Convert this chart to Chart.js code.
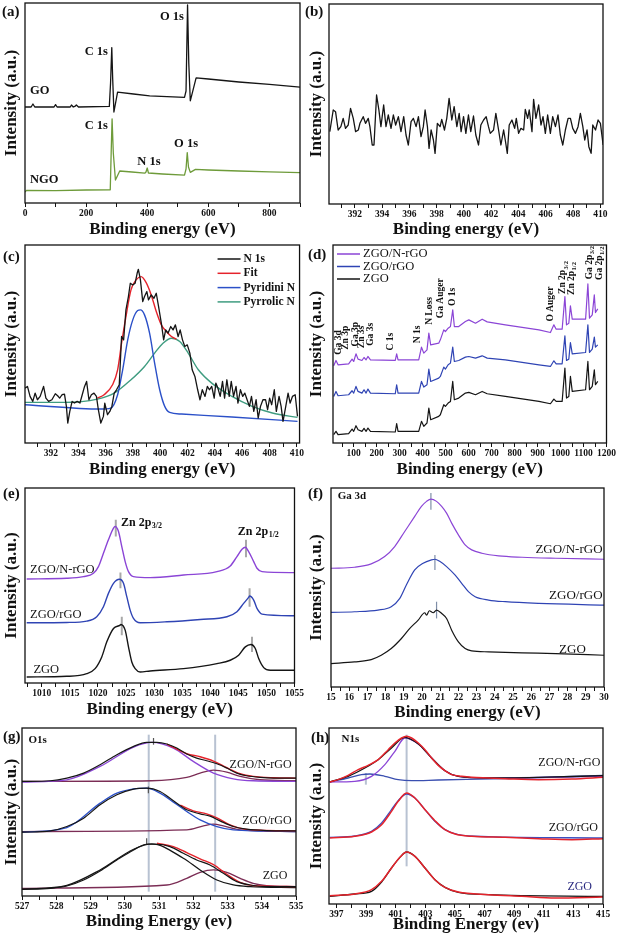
<!DOCTYPE html>
<html><head><meta charset="utf-8">
<script src="https://cdn.jsdelivr.net/npm/chart.js@4.4.1/dist/chart.umd.min.js"></script>
<style>
html,body{margin:0;padding:0;background:#fff;width:617px;height:940px;overflow:hidden;}
.p{position:absolute;}
.lbl{position:absolute;font:bold 15px "Liberation Serif",serif;color:#111;line-height:15px;}
</style></head><body>
<div class="p" style="left:0;top:0;width:305px;height:240px"><canvas id="ca"></canvas></div>
<div class="p" style="left:305px;top:0;width:312px;height:240px"><canvas id="cb"></canvas></div>
<div class="p" style="left:0;top:240px;width:305px;height:240px"><canvas id="cc"></canvas></div>
<div class="p" style="left:305px;top:240px;width:312px;height:240px"><canvas id="cd"></canvas></div>
<div class="p" style="left:0;top:480px;width:305px;height:240px"><canvas id="ce"></canvas></div>
<div class="p" style="left:305px;top:480px;width:312px;height:243px"><canvas id="cf"></canvas></div>
<div class="p" style="left:0;top:720px;width:305px;height:220px"><canvas id="cg"></canvas></div>
<div class="p" style="left:305px;top:720px;width:312px;height:220px"><canvas id="ch"></canvas></div>
<div class="lbl" style="left:2px;top:4px">(a)</div>
<div class="lbl" style="left:305px;top:4px">(b)</div>
<div class="lbl" style="left:3px;top:249px">(c)</div>
<div class="lbl" style="left:308px;top:247px">(d)</div>
<div class="lbl" style="left:3px;top:486px">(e)</div>
<div class="lbl" style="left:308px;top:486px">(f)</div>
<div class="lbl" style="left:3px;top:729px">(g)</div>
<div class="lbl" style="left:311px;top:730px">(h)</div>
<script>
// ---------------- DATA ----------------
// (a) survey GO / NGO
const aGOx = [0,20,26,32,95,100,105,148,152,158,163,168,175,276,280,284,287,291,303,355,408,522,527,532,536,541,560,600,700,800,900];
const aGOy = [48,48,49.5,48,48,49.2,48,48,49,48,48.3,49,48,48.3,60,77.7,62,45.5,55.4,54.5,53.6,52.8,56,99,70,51.1,62.6,62,60.5,59.3,57.9];
const aNGOx = [0,5,100,200,279,282,285,289,296,310,350,392,396,400,404,450,522,527,531,535,541,558,600,700,800,900];
const aNGOy = [5.5,6.3,6.2,6.5,6.6,25,42.1,25,11.5,16,15.5,14.9,15.5,17.5,15,14.5,13.9,17,25.2,18,15.3,16.8,16.5,16,15.6,15.2];
const aTicks = [0,200,400,600,800];

// (b) N 1s of ZGO (noise)
const bX = [390.16,390.41,390.58,390.77,390.97,391.14,391.31,391.51,391.68,391.88,392.05,392.25,392.37,392.61,392.78,392.98,393.10,393.27,393.40,393.59,393.76,393.91,394.11,394.28,394.45,394.65,394.82,394.99,395.19,395.38,395.58,395.75,395.92,396.12,396.29,396.49,396.66,396.85,397.02,397.15,397.32,397.44,397.59,397.76,397.88,398.05,398.25,398.37,398.57,398.74,398.91,399.11,399.28,399.48,399.65,399.79,399.97,400.14,400.33,400.50,400.70,400.87,401.07,401.24,401.44,401.63,401.80,401.93,402.17,402.34,402.54,402.71,402.91,403.03,403.18,403.32,403.52,403.72,403.84,404.01,404.18,404.38,404.50,404.67,404.79,404.99,405.11,405.28,405.48,405.65,405.80,405.97,406.14,406.34,406.51,406.71,406.90,407.07,407.25,407.44,407.64,407.81,407.98,408.18,408.37,408.54,408.72,408.86,409.03,409.16,409.33,409.45,409.65,409.84,410.01,410.21];
const bY = [217,282,277,222,232,257,227,237,287,257,217,222,242,262,242,257,232,177,177,327,282,232,297,232,267,227,267,237,262,217,262,207,177,247,257,232,262,202,232,282,232,167,222,192,152,242,232,254,222,257,317,252,292,232,272,217,262,212,267,217,264,207,177,237,252,262,232,212,222,272,222,177,222,192,152,237,252,227,257,212,227,222,284,257,282,217,314,257,297,237,262,212,267,212,262,232,267,207,177,222,257,257,227,212,232,272,232,192,222,172,152,237,222,252,242,177];
const bcTicks = [392,394,396,398,400,402,404,406,408,410];

// (c) N 1s of NGO with fit
const cRawX = [390.10,390.28,390.47,390.67,390.84,391.01,391.21,391.46,391.63,391.83,392.07,392.32,392.49,392.64,392.81,392.99,393.13,393.23,393.38,393.55,393.72,393.92,394.12,394.29,394.46,394.61,394.78,394.96,395.15,395.33,395.47,395.65,395.84,395.94,396.14,396.31,396.46,396.63,396.80,397.00,397.17,397.32,397.49,397.67,397.81,397.99,398.16,398.31,398.40,398.55,398.72,398.85,399.02,399.14,399.34,399.54,399.71,399.88,400.08,400.25,400.40,400.57,400.77,400.94,401.11,401.31,401.46,401.63,401.80,401.98,402.17,402.34,402.54,402.74,402.91,403.08,403.28,403.45,403.60,403.77,403.95,404.07,404.22,404.39,404.56,404.71,404.88,405.05,405.20,405.37,405.55,405.69,405.87,406.04,406.19,406.36,406.53,406.68,406.85,407.02,407.17,407.34,407.52,407.71,407.86,408.01,408.16,408.35,408.50,408.70,408.85,408.99,409.19,409.36,409.51,409.68,409.88,410.05];
const cRawY = [165,170,140,125,150,130,140,170,135,125,130,148,142,135,145,147,110,60,95,125,120,125,120,145,170,185,130,145,150,140,100,60,80,120,85,95,110,150,160,175,320,310,400,440,480,475,480,510,522,490,425,440,455,430,445,435,450,410,360,310,340,330,350,340,355,320,340,310,290,295,270,220,200,160,130,160,140,170,160,170,135,180,165,140,185,135,190,140,185,140,170,120,160,140,150,130,110,140,95,130,75,110,130,130,100,135,115,160,95,140,110,65,110,150,120,140,145,80];
const cFitX = [395.40,395.89,396.51,396.88,397.17,397.49,397.86,398.23,398.60,398.97,399.34,399.71,400.08,400.45,400.82,401.19];
const cFitY = [135,145,175,220,300,380,460,490,500,482,445,395,355,335,320,312];
const cPydX = [390.10,395.65,396.38,396.88,397.25,397.62,397.99,398.35,398.55,398.85,399.22,399.59,399.96,400.33,400.69,401.56,405.25,410.05];
const cPydY = [115,102,105,145,220,310,370,398,400,385,330,240,160,110,92,87,78,65];
const cPyrX = [390.10,392.94,395.40,396.63,397.86,398.85,399.59,400.20,400.82,401.43,402.05,402.79,403.77,405.25,406.73,408.21,410.05];
const cPyrY = [122,122,132,150,190,230,270,300,315,305,270,220,180,140,110,90,77];

// (d) survey spectra
const dX = [13,23,32,78,93,100,110,119,136,145,154,162,173,281,287,293,383,395,405,419,427,435,470,477,492,499,511,521,531,538,557,586,601,630,659,681,760,906,956,971,981,1007,1019,1026,1036,1043,1051,1109,1119,1126,1138,1147,1152,1162];
const dZGO = [25,35,25,28,42,35,52,40,35,44,35,45,35,33,58,35,35,65,50,60,105,70,80,85,115,110,120,125,185,130,135,150,152,145,155,148,140,125,118,132,125,125,225,135,140,200,155,160,245,160,170,220,175,185];
const dRGO = [140,155,142,145,157,150,170,155,150,160,150,162,150,148,175,150,150,185,168,175,222,185,195,200,228,222,235,240,288,245,248,258,260,255,262,255,250,235,230,247,238,238,322,248,252,302,268,272,355,272,282,318,288,295];
const dNRGO = [232,248,235,238,252,245,268,252,248,257,250,260,250,248,268,250,250,288,270,280,330,295,300,310,340,335,345,350,400,350,350,365,370,360,372,364,355,340,332,355,342,342,440,355,360,412,372,372,478,375,385,445,392,403];
const dPeakNames = ['Ga 3d','Zn 3p','Ga 3p','Zn 3s','Ga 3s','C 1s','N 1s','N Loss','Ga Auger','O 1s','O Auger','Zn 2p','Zn 2p','Ga 2p','Ga 2p'];
const dPeakSubs = ['','','','','','','','','','','','3/2','1/2','3/2','1/2'];
const dPeakX = [34.7,63.7,107,136,172.6,259.6,380,429,477,532,956,1010,1048,1126,1170];
const dPeakY = [265,280,290,285,292,278,300,355,375,412,365,448,445,492,490];
const dTicks = [100,200,300,400,500,600,700,800,900,1000,1100,1200];

// (e) Zn 2p
const eNX = [1007.3,1014.43,1017.40,1019.19,1020.08,1020.97,1021.86,1022.76,1023.05,1023.65,1024.24,1024.84,1025.43,1026.32,1029.29,1035.24,1041.19,1043.56,1044.75,1045.65,1046.24,1046.83,1047.73,1048.32,1049.21,1055];
const eNY = [311,313,318,328,348,388,428,463,468,453,408,363,333,318,315,323,333,350,378,400,406,393,363,343,333,330];
const eRX = [1007.3,1014.43,1018.00,1019.78,1020.97,1021.86,1022.76,1023.83,1024.54,1025.13,1025.73,1026.32,1027.51,1032.27,1038.21,1042.97,1044.75,1045.94,1046.83,1047.01,1047.73,1048.32,1049.21,1055];
const eRY = [180,181,185,198,228,268,298,310,298,258,218,193,180,183,190,198,213,238,256,260,248,223,206,201];
const eZX = [1007.3,1014.43,1018.00,1019.49,1020.67,1021.57,1022.76,1023.94,1024.06,1024.84,1025.43,1026.02,1026.62,1027.51,1029.29,1035.24,1041.19,1043.56,1045.05,1046.24,1047.25,1048.02,1048.62,1049.51,1050.70,1055];
const eZY = [18,20,28,43,78,123,163,173,175,158,108,63,43,33,36,43,58,68,83,108,115,103,73,46,38,38];
const eMarks = [[1023.17,438,488],[1046.36,376,428],[1024.0,283,330],[1047.0,228,283],[1024.24,143,198],[1047.43,93,138]];
const eTicks = [1010,1015,1020,1025,1030,1035,1040,1045,1050,1055];

// (f) Ga 3d
const fNX = [15,16.29,17.21,17.95,18.50,19.05,19.60,19.97,20.25,20.49,20.80,21.08,21.35,21.63,22.00,22.37,22.73,23.29,24.21,25.50,27.34,30];
const fNY = [355,358,368,390,420,465,510,540,555,562,555,540,520,490,455,425,410,400,392,388,385,382];
const fRX = [15,16.29,17.58,18.31,18.78,19.14,19.60,20.06,20.52,20.71,20.99,21.35,21.81,22.18,22.55,22.92,23.66,24.58,26.42,30];
const fRY = [223,225,230,240,265,305,350,370,380,382,375,360,335,310,285,270,260,255,250,245];
const fZX = [15,16.29,17.21,17.76,18.31,18.87,19.33,19.79,20.15,20.25,20.40,20.62,20.80,21.08,21.35,21.63,22.00,22.37,22.73,23.66,25.50,27.34,30];
const fZY = [70,75,82,95,115,145,175,200,222,215,228,222,230,220,205,170,135,115,108,105,102,100,95];
const fMarks = [[20.49,530,580],[20.71,350,395],[20.80,205,255]];
const fTicks = [15,16,17,18,19,20,21,22,23,24,25,26,27,28,29,30];

// (g) O 1s
const gTopRawX = [527,527.83,528.31,528.80,529.28,529.77,530.26,530.64,530.94,531.23,531.52,531.81,532.10,532.39,532.69,532.98,533.27,533.56,533.95,534.34,535];
const gTopRawY = [343,345,353,368,393,423,448,460,460,455,443,425,413,405,396,383,368,360,355,353,353];
const gTopFitX = [531.23,531.81,532.20,532.59,532.98,533.37,533.75,534.34,535];
const gTopFitY = [455,426,417,404,384,366,358,354,353];
const gTopMainX = [527,528.31,529.28,530.26,530.79,531.42,532.00,532.59,533.17,533.75,535];
const gTopMainY = [341,348,388,446,460,443,403,368,351,345,343];
const gTopSecX = [527,530.79,531.81,532.20,532.59,532.98,533.37,533.95,535];
const gTopSecY = [343,345,355,368,377,371,358,348,345];
const gMidRawX = [527,527.83,528.31,528.80,529.28,529.77,530.26,530.64,531.03,531.42,531.81,532.20,532.49,532.78,533.17,533.56,534.14,535];
const gMidRawY = [191,195,208,233,273,303,320,323,313,285,258,246,239,225,208,200,196,195];
const gMidFitX = [531.62,532.00,532.39,532.69,533.07,533.46,533.95,535];
const gMidFitY = [272,255,246,234,213,201,197,195];
const gMidMainX = [527,528.31,529.28,529.77,530.26,530.64,531.03,531.42,531.81,532.20,532.69,533.17,535];
const gMidMainY = [191,205,278,308,321,323,308,281,253,228,208,198,193];
const gMidSecX = [527,531.81,532.30,532.59,532.88,533.37,535];
const gMidSecY = [193,198,210,215,210,198,193];
const gBotRawX = [527,527.83,528.31,528.80,529.28,529.77,530.26,530.64,530.94,531.32,531.71,532.10,532.49,532.88,533.27,533.66,534.14,535];
const gBotRawY = [20,23,30,48,75,108,138,155,155,148,128,108,93,68,43,33,28,28];
const gBotFitX = [530.94,531.42,531.81,532.20,532.59,532.98,533.37,533.75,535];
const gBotFitY = [158,148,130,111,94,65,41,31,28];
const gBotMainX = [527,528.31,529.28,530.26,530.79,531.71,532.20,532.69,533.17,533.66,535];
const gBotMainY = [20,32,78,140,156,113,78,48,33,28,25];
const gBotSecX = [527,531.23,531.81,532.20,532.59,532.98,533.37,533.75,534.14,535];
const gBotSecY = [23,33,53,71,78,71,53,38,31,28];
const gGuides = [[530.7,13,483],[532.64,13,483]];
const gMarks = [[530.84,453,473],[530.69,308,328],[530.64,153,173]];
const gTicks = [527,528,529,530,531,532,533,534,535];

// (h) N 1s of composites
const hTopRawX = [396.55,397.11,397.79,398.47,399.14,399.82,400.50,400.95,401.40,401.74,402.08,402.53,402.98,403.43,403.88,404.33,404.78,405.46,406.14,407.26,408.39,410.65,412.90,415];
const hTopRawY = [366,373,386,403,416,433,463,483,498,503,498,483,463,438,416,400,388,383,380,378,376,373,375,380];
const hTopFitX = [396.55,397.79,398.92,399.82,400.72,401.62,402.53,403.43,404.33,405.23,407.26,410.65,415];
const hTopFitY = [366,383,408,433,468,500,480,438,400,383,378,380,385];
const hTopMainX = [396.55,398.24,399.37,400.27,400.95,401.62,402.53,403.43,404.33,405.23,407.26,415];
const hTopMainY = [366,368,383,418,458,498,480,438,400,383,378,383];
const hTopSecX = [396.55,397.79,398.69,399.26,400.27,401.17,402.08,403.88,408.39,415];
const hTopSecY = [366,378,388,390,383,373,370,372,376,386];
const hMidRawX = [396.55,398.24,399.37,400.05,400.72,401.17,401.74,402.30,402.98,403.65,404.33,405.01,406.14,408.39,410.65,412.90,415];
const hMidRawY = [198,203,216,238,278,308,333,318,283,250,223,210,203,200,196,193,196];
const hMidFitX = [396.55,398.24,399.37,400.05,400.72,401.17,401.74,402.30,402.98,403.65,404.33,405.23,407.26,415];
const hMidFitY = [200,204,218,243,283,310,330,318,283,248,223,208,202,198];
const hBotRawX = [396.55,398.24,399.37,400.05,400.72,401.29,401.74,402.30,402.98,403.65,404.33,405.23,407.26,409.52,411.78,415];
const hBotRawY = [25,30,43,68,108,140,156,143,108,73,50,36,28,23,18,21];
const hBotFitX = [396.55,398.24,399.37,400.05,400.72,401.29,401.74,402.30,402.98,403.65,404.33,405.23,407.26,415];
const hBotFitY = [23,30,38,66,108,140,156,143,108,73,50,35,28,23];
const hGuides = [[401.74,113,508],[398.99,358,393]];
const hTicks = [397,399,401,403,405,407,409,411,413,415];

// ---------------- STYLE / HELPERS ----------------
const F = '"Liberation Serif","Times New Roman",serif';
const BLK = '#151515', RED = '#e5232b', BLU = '#2f44b4', PUR = '#8b45d6', GRN = '#3f9c80', OLV = '#6e9b3a', MAR = '#7b2d55', GRY = '#b8c2d2';

function ln(xs, ys, color, w, extra) {
  return Object.assign({data: xs.map((x, i) => ({x: x, y: ys[i]})), borderColor: color, borderWidth: w || 1.2,
    pointRadius: 0, tension: 0, fill: false}, extra || {});
}
const smooth = {cubicInterpolationMode: 'monotone'};
function vl(m, color, w) {
  return {data: [{x: m[0], y: m[1]}, {x: m[0], y: m[2]}], borderColor: color, borderWidth: w || 1.2, pointRadius: 0, fill: false};
}

const framePlugin = {
  id: 'frame',
  afterDraw(chart) {
    const a = chart.chartArea, ctx = chart.ctx;
    ctx.save(); ctx.strokeStyle = '#111'; ctx.lineWidth = 1.3;
    ctx.strokeRect(a.left, a.top, a.right - a.left, a.bottom - a.top);
    ctx.restore();
  }
};
function notesPlugin(notes, legend) {
  return {
    id: 'notes',
    afterDatasetsDraw(chart) {
      const ctx = chart.ctx, xs = chart.scales.x, ys = chart.scales.y, a = chart.chartArea;
      (notes || []).forEach(n => {
        ctx.save();
        ctx.font = n.font; ctx.fillStyle = n.color || '#111';
        const px = xs.getPixelForValue(n.x), py = ys.getPixelForValue(n.y);
        ctx.textBaseline = 'middle';
        if (n.rot) { ctx.translate(px, py); ctx.rotate(-Math.PI / 2); ctx.textAlign = 'left'; }
        else { ctx.translate(px, py); ctx.textAlign = n.align || 'left'; }
        ctx.fillText(n.text, 0, 0);
        if (n.sub) {
          const w = ctx.measureText(n.text).width;
          ctx.font = n.subFont; ctx.textAlign = 'left';
          ctx.fillText(n.sub, w + 0.5, 3);
        }
        ctx.restore();
      });
      if (legend) {
        ctx.save();
        ctx.font = legend.font; ctx.textBaseline = 'middle'; ctx.textAlign = 'left';
        legend.items.forEach((it, i) => {
          const y = a.top + legend.y0 + i * legend.dy;
          const x0 = legend.fromRight ? a.right - legend.x0 : a.left + legend.x0;
          ctx.strokeStyle = it.c; ctx.lineWidth = 1.5;
          ctx.beginPath(); ctx.moveTo(x0, y); ctx.lineTo(x0 + legend.len, y); ctx.stroke();
          ctx.fillStyle = '#111';
          ctx.fillText(it.t, x0 + legend.len + 3, y);
        });
        ctx.restore();
      }
    }
  };
}

function makeChart(id, c) {
  const tickVals = [];
  for (let v = c.tickStart; v <= c.xMax + 1e-9; v += c.tickStep) tickVals.push(Math.round(v * 1000) / 1000);
  new Chart(document.getElementById(id), {
    type: 'line',
    data: {datasets: c.datasets},
    options: {
      responsive: true, maintainAspectRatio: false, animation: false,
      layout: {padding: {left: 0, top: c.pad[0], right: c.pad[1], bottom: c.pad[2]}},
      plugins: {legend: {display: false}, tooltip: {enabled: false}},
      elements: {line: {borderJoinStyle: 'round'}},
      scales: {
        x: {
          type: 'linear', min: c.xMin, max: c.xMax,
          afterBuildTicks: s => { s.ticks = tickVals.map(v => ({value: v})); },
          ticks: {autoSkip: false, maxRotation: 0, minRotation: 0, padding: 1, color: '#111',
            font: {family: F, size: 9.5, weight: 'bold'},
            callback: v => c.labels.some(m => Math.abs(m - v) < 1e-6) ? String(v) : ''},
          grid: {drawOnChartArea: false, drawTicks: true, tickLength: 4, color: '#111', lineWidth: 1},
          border: {display: false},
          title: {display: true, text: c.xTitle, color: '#111', font: {family: F, size: 17, weight: 'bold'}, padding: {top: 0, bottom: 0}},
          afterFit: s => { s.height = c.xH; }
        },
        y: {
          min: c.yMin, max: c.yMax,
          ticks: {display: false}, grid: {display: false}, border: {display: false},
          title: {display: true, text: 'Intensity (a.u.)', color: '#111', font: {family: F, size: 17, weight: 'bold'}, padding: {top: 1, bottom: 0}},
          afterFit: s => { s.width = c.yW; }
        }
      }
    },
    plugins: [framePlugin, notesPlugin(c.notes, c.legend)]
  });
}

const B13 = 'bold 12.5px ' + F, R12 = '12px ' + F, B11 = 'bold 11px ' + F;

// (a)
makeChart('ca', {
  xMin: 0, xMax: 900, yMin: 0, yMax: 100, tickStart: 0, tickStep: 100, labels: aTicks,
  pad: [3, 5, 0], yW: 25, xH: 37, xTitle: 'Binding energy (eV)',
  datasets: [ln(aGOx, aGOy, BLK, 1.3), ln(aNGOx, aNGOy, OLV, 1.3)],
  notes: [
    {x: 271.6, y: 75.7, text: 'C 1s', align: 'right', font: B13},
    {x: 520, y: 93, text: 'O 1s', align: 'right', font: B13},
    {x: 16.4, y: 56, text: 'GO', font: B13},
    {x: 271.6, y: 38.6, text: 'C 1s', align: 'right', font: B13},
    {x: 405.8, y: 20.8, text: 'N 1s', align: 'center', font: B13},
    {x: 527, y: 29.7, text: 'O 1s', align: 'center', font: B13},
    {x: 16.4, y: 11.4, text: 'NGO', font: B13}
  ]
});
// (b)
makeChart('cb', {
  xMin: 390.1, xMax: 410.2, yMin: 0, yMax: 600, tickStart: 391, tickStep: 1, labels: bcTicks,
  pad: [4, 14, 0], yW: 24, xH: 36, xTitle: 'Binding energy (eV)',
  datasets: [ln(bX, bY, BLK, 1.3)]
});
// (c)
makeChart('cc', {
  xMin: 390.1, xMax: 410.2, yMin: 0, yMax: 595, tickStart: 391, tickStep: 1, labels: bcTicks,
  pad: [5, 5, 0], yW: 25, xH: 37, xTitle: 'Binding energy (eV)',
  datasets: [ln(cRawX, cRawY, BLK, 1.3), ln(cFitX, cFitY, RED, 1.4, smooth), ln(cPydX, cPydY, '#2b50c8', 1.4, smooth), ln(cPyrX, cPyrY, GRN, 1.4, smooth)],
  legend: {fromRight: true, x0: 82, len: 23, y0: 14, dy: 14.3, font: 'bold 11.5px ' + F,
    items: [{t: 'N 1s', c: BLK}, {t: 'Fit', c: RED}, {t: 'Pyridini N', c: '#2b50c8'}, {t: 'Pyrrolic N', c: GRN}]}
});
// (d)
const dNotes = dPeakNames.map((t, i) => ({x: dPeakX[i], y: dPeakY[i], text: t, rot: true, font: 'bold 9.5px ' + F,
  sub: dPeakSubs[i], subFont: 'bold 6.5px ' + F}));
makeChart('cd', {
  xMin: 10, xMax: 1200, yMin: 0, yMax: 595, tickStart: 50, tickStep: 50, labels: dTicks,
  pad: [5, 10, 0], yW: 28, xH: 37, xTitle: 'Binding energy (eV)',
  datasets: [ln(dX, dNRGO, PUR, 1.2), ln(dX, dRGO, BLU, 1.2), ln(dX, dZGO, BLK, 1.2)],
  notes: dNotes,
  legend: {fromRight: false, x0: 4, len: 23, y0: 9, dy: 12.5, font: '12.5px ' + F,
    items: [{t: 'ZGO/N-rGO', c: PUR}, {t: 'ZGO/rGO', c: BLU}, {t: 'ZGO', c: BLK}]}
});
// (e)
makeChart('ce', {
  xMin: 1007, xMax: 1055, yMin: 0, yMax: 583, tickStart: 1007.5, tickStep: 2.5, labels: eTicks,
  pad: [8, 9, 0], yW: 25, xH: 37, xTitle: 'Binding energy (eV)',
  datasets: [ln(eNX, eNY, PUR, 1.4, smooth), ln(eRX, eRY, BLU, 1.4, smooth), ln(eZX, eZY, BLK, 1.4, smooth)]
    .concat(eMarks.map(m => vl(m, '#a8a8a8', 2))),
  notes: [
    {x: 1024.1, y: 478, text: 'Zn 2p', sub: '3/2', font: 'bold 12px ' + F, subFont: 'bold 8px ' + F},
    {x: 1044.9, y: 453, text: 'Zn 2p', sub: '1/2', font: 'bold 12px ' + F, subFont: 'bold 8px ' + F},
    {x: 1007.9, y: 338, text: 'ZGO/N-rGO', font: '12.5px ' + F},
    {x: 1007.9, y: 203, text: 'ZGO/rGO', font: '12.5px ' + F},
    {x: 1008.5, y: 40, text: 'ZGO', font: '12.5px ' + F}
  ]
});
// (f)
makeChart('cf', {
  xMin: 15, xMax: 30, yMin: 0, yMax: 595, tickStart: 15, tickStep: 0.5, labels: fTicks,
  pad: [8, 13, 0], yW: 26, xH: 36, xTitle: 'Binding energy (eV)',
  datasets: [ln(fNX, fNY, PUR, 1.2, smooth), ln(fRX, fRY, BLU, 1.2, smooth), ln(fZX, fZY, BLK, 1.2, smooth)]
    .concat(fMarks.map(m => vl(m, '#7f8ea8', 1.2))),
  notes: [
    {x: 15.37, y: 570, text: 'Ga 3d', font: B11},
    {x: 29.92, y: 412, text: 'ZGO/N-rGO', align: 'right', font: '13px ' + F},
    {x: 29.92, y: 272, text: 'ZGO/rGO', align: 'right', font: '13px ' + F},
    {x: 29.0, y: 113, text: 'ZGO', align: 'right', font: '13px ' + F}
  ]
});
// (g)
makeChart('cg', {
  xMin: 527, xMax: 535, yMin: 0, yMax: 503, tickStart: 527, tickStep: 0.5, labels: gTicks,
  pad: [8, 9, 8], yW: 22, xH: 36, xTitle: 'Binding Energy (ev)',
  datasets: [
    ln(gTopRawX, gTopRawY, BLK, 1.2, smooth), ln(gTopFitX, gTopFitY, RED, 1.4, smooth), ln(gTopMainX, gTopMainY, PUR, 1.3, smooth), ln(gTopSecX, gTopSecY, MAR, 1.3, smooth),
    ln(gMidRawX, gMidRawY, BLK, 1.2, smooth), ln(gMidFitX, gMidFitY, RED, 1.4, smooth), ln(gMidMainX, gMidMainY, '#2b50c8', 1.3, smooth), ln(gMidSecX, gMidSecY, MAR, 1.3, smooth),
    ln(gBotRawX, gBotRawY, BLK, 1.2, smooth), ln(gBotFitX, gBotFitY, RED, 1.4, smooth), ln(gBotMainX, gBotMainY, BLK, 1.3, smooth), ln(gBotSecX, gBotSecY, MAR, 1.3, smooth)
  ].concat(gMarks.map(m => vl(m, '#555', 1.2))).concat(gGuides.map(m => vl(m, GRY, 2))),
  notes: [
    {x: 527.19, y: 468, text: 'O1s', font: B11},
    {x: 534.87, y: 393, text: 'ZGO/N-rGO', align: 'right', font: R12},
    {x: 534.87, y: 225, text: 'ZGO/rGO', align: 'right', font: R12},
    {x: 534.75, y: 60, text: 'ZGO', align: 'right', font: R12}
  ]
});
// (h)
makeChart('ch', {
  xMin: 396.5, xMax: 415, yMin: 0, yMax: 528, tickStart: 397, tickStep: 1, labels: hTicks,
  pad: [8, 14, 5], yW: 24, xH: 31, xTitle: 'Binding Energy (ev)',
  datasets: [
    ln(hTopRawX, hTopRawY, RED, 1.5, smooth), ln(hTopFitX, hTopFitY, BLK, 1.3, smooth), ln(hTopMainX, hTopMainY, PUR, 1.3, smooth), ln(hTopSecX, hTopSecY, '#3a4fb0', 1.3, smooth),
    ln(hMidRawX, hMidRawY, RED, 1.5, smooth), ln(hMidFitX, hMidFitY, '#3a4fc0', 1.3, smooth),
    ln(hBotRawX, hBotRawY, RED, 1.5, smooth), ln(hBotFitX, hBotFitY, BLK, 1.3, smooth)
  ].concat(hGuides.map(m => vl(m, GRY, 2))),
  notes: [
    {x: 397.34, y: 496, text: 'N1s', font: B11},
    {x: 414.82, y: 423, text: 'ZGO/N-rGO', align: 'right', font: R12},
    {x: 414.66, y: 228, text: 'ZGO/rGO', align: 'right', font: R12},
    {x: 414.26, y: 50, text: 'ZGO', align: 'right', font: R12, color: '#2a2a80'}
  ]
});
</script>
</body></html>
